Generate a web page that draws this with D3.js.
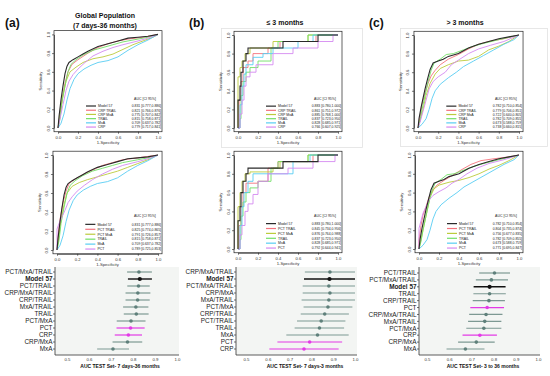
<!DOCTYPE html>
<html>
<head>
<meta charset="utf-8">
<script src="https://d3js.org/d3.v7.min.js"></script>
<style>
  body { margin: 0; background: #fff; }
  svg { font-family: "Liberation Sans", Arial, sans-serif; }
</style>
</head>
<body>
<div class="fig"></div>
<script>
// ---- ROC legends ----
var namesCRP = ["Model 57", "CRP TRAIL", "CRP MxA", "TRAIL", "MxA", "CRP"];
var namesPCT = ["Model 57", "PCT TRAIL", "PCT MxA", "TRAIL", "MxA", "PCT"];
var rocColors = ["#2a2a2a", "#f4737d", "#bccb3c", "#72df66", "#58cdf3", "#d58af0"];

var aucA1 = ["0.831 [0.777,0.886]", "0.821 [0.766,0.876]", "0.775 [0.707,0.842]", "0.815 [0.758,0.871]", "0.709 [0.637,0.782]", "0.779 [0.717,0.841]"];
var aucA2 = ["0.831 [0.777,0.886]", "0.825 [0.774,0.865]", "0.791 [0.726,0.857]", "0.815 [0.758,0.871]", "0.709 [0.637,0.782]", "0.789 [0.725,0.853]"];
var aucB1 = ["0.883 [0.780,1.000]", "0.861 [0.751,0.972]", "0.885 [0.768,1.000]", "0.837 [0.723,0.950]", "0.828 [0.685,0.971]", "0.766 [0.607,0.925]"];
var aucB2 = ["0.883 [0.780,1.000]", "0.845 [0.734,0.956]", "0.876 [0.764,0.988]", "0.837 [0.723,0.950]", "0.828 [0.685,0.971]", "0.792 [0.644,0.941]"];
var aucC1 = ["0.782 [0.710,0.854]", "0.779 [0.706,0.851]", "0.722 [0.640,0.805]", "0.782 [0.709,0.855]", "0.673 [0.588,0.759]", "0.738 [0.660,0.815]"];
var aucC2 = ["0.782 [0.710,0.854]", "0.804 [0.735,0.874]", "0.756 [0.677,0.835]", "0.782 [0.709,0.855]", "0.673 [0.588,0.759]", "0.771 [0.695,0.847]"];

// ---- ROC curves, [1-specificity, sensitivity] ----
var m57A = [[0,0],[0.01,0.12],[0.03,0.3],[0.05,0.45],[0.07,0.58],[0.09,0.66],[0.11,0.7],[0.15,0.73],[0.2,0.76],[0.25,0.79],[0.3,0.82],[0.4,0.87],[0.5,0.9],[0.6,0.93],[0.7,0.96],[0.8,0.97],[0.9,0.98],[1,1]];
var trailA = [[0,0],[0.02,0.1],[0.04,0.28],[0.07,0.45],[0.1,0.6],[0.13,0.68],[0.18,0.73],[0.25,0.78],[0.35,0.83],[0.45,0.86],[0.55,0.89],[0.65,0.92],[0.8,0.95],[0.9,0.97],[1,1]];
var mxaA = [[0,0],[0.03,0.05],[0.06,0.15],[0.09,0.3],[0.12,0.42],[0.16,0.52],[0.2,0.58],[0.26,0.63],[0.33,0.67],[0.4,0.7],[0.5,0.72],[0.6,0.76],[0.7,0.83],[0.8,0.89],[0.9,0.94],[1,1]];
var rocA1 = [m57A,
  [[0,0],[0.02,0.12],[0.04,0.3],[0.07,0.48],[0.1,0.6],[0.14,0.68],[0.2,0.73],[0.3,0.8],[0.4,0.86],[0.5,0.9],[0.6,0.93],[0.7,0.95],[0.85,0.97],[1,1]],
  [[0,0],[0.02,0.15],[0.05,0.35],[0.08,0.5],[0.12,0.6],[0.18,0.65],[0.25,0.7],[0.35,0.74],[0.45,0.76],[0.55,0.79],[0.65,0.84],[0.75,0.89],[0.85,0.93],[0.95,0.97],[1,1]],
  trailA, mxaA,
  [[0,0],[0.02,0.1],[0.05,0.25],[0.08,0.4],[0.11,0.5],[0.15,0.57],[0.2,0.63],[0.27,0.7],[0.35,0.77],[0.45,0.82],[0.55,0.86],[0.65,0.89],[0.8,0.93],[0.9,0.96],[1,1]]];
var rocA2 = [m57A,
  [[0,0],[0.01,0.15],[0.03,0.32],[0.06,0.5],[0.09,0.62],[0.12,0.7],[0.17,0.74],[0.25,0.79],[0.35,0.84],[0.45,0.89],[0.55,0.92],[0.65,0.95],[0.8,0.97],[1,1]],
  [[0,0],[0.02,0.15],[0.04,0.32],[0.07,0.48],[0.1,0.6],[0.15,0.67],[0.22,0.71],[0.3,0.74],[0.4,0.77],[0.5,0.8],[0.6,0.83],[0.7,0.87],[0.8,0.91],[0.9,0.95],[1,1]],
  trailA, mxaA,
  [[0,0],[0,0.22],[0.02,0.28],[0.05,0.35],[0.08,0.42],[0.11,0.5],[0.15,0.56],[0.2,0.62],[0.27,0.68],[0.35,0.74],[0.45,0.8],[0.55,0.85],[0.65,0.89],[0.8,0.93],[0.9,0.96],[1,1]]];

var m57B = [[0,0],[0,0.3],[0.02,0.45],[0.03,0.6],[0.05,0.72],[0.08,0.8],[0.1,0.86],[0.45,0.93],[0.8,1],[1,1]];
var trailB = [[0,0],[0.02,0.1],[0.03,0.35],[0.05,0.5],[0.08,0.6],[0.12,0.65],[0.2,0.72],[0.33,0.86],[0.4,0.93],[0.7,1],[1,1]];
var rocB1 = [m57B,
  [[0,0],[0.01,0.3],[0.03,0.5],[0.05,0.65],[0.1,0.72],[0.15,0.8],[0.3,0.86],[0.42,0.93],[0.78,1],[1,1]],
  [[0,0],[0,0.55],[0.02,0.65],[0.04,0.72],[0.07,0.8],[0.12,0.86],[0.35,0.93],[0.7,1],[1,1]],
  trailB,
  [[0,0],[0.02,0.25],[0.04,0.45],[0.06,0.58],[0.08,0.68],[0.15,0.76],[0.25,0.8],[0.35,0.86],[0.6,0.93],[0.75,1],[1,1]],
  [[0,0],[0.02,0.15],[0.04,0.3],[0.06,0.45],[0.08,0.55],[0.12,0.6],[0.18,0.68],[0.35,0.8],[0.55,0.86],[0.8,0.93],[0.95,1],[1,1]]];
var rocB2 = [m57B,
  [[0,0],[0.01,0.25],[0.03,0.45],[0.05,0.6],[0.08,0.7],[0.2,0.72],[0.3,0.86],[0.4,0.93],[0.75,1],[1,1]],
  [[0,0],[0,0.45],[0.02,0.6],[0.04,0.72],[0.07,0.8],[0.12,0.82],[0.35,0.86],[0.42,0.93],[0.7,1],[1,1]],
  trailB,
  [[0,0],[0.02,0.25],[0.04,0.45],[0.06,0.6],[0.1,0.72],[0.15,0.8],[0.55,0.93],[0.72,1],[1,1]],
  [[0,0],[0.02,0.15],[0.04,0.25],[0.07,0.4],[0.1,0.48],[0.15,0.58],[0.2,0.72],[0.3,0.8],[0.5,0.86],[0.75,0.93],[0.97,1],[1,1]]];

var m57C = [[0,0],[0.01,0.1],[0.03,0.22],[0.05,0.32],[0.07,0.42],[0.1,0.55],[0.12,0.63],[0.15,0.7],[0.2,0.72],[0.25,0.74],[0.3,0.77],[0.4,0.8],[0.5,0.86],[0.6,0.9],[0.7,0.93],[0.8,0.96],[0.9,0.98],[1,1]];
var trailC = [[0,0],[0.02,0.08],[0.04,0.2],[0.07,0.35],[0.1,0.5],[0.13,0.62],[0.16,0.7],[0.22,0.74],[0.28,0.79],[0.35,0.8],[0.45,0.84],[0.55,0.88],[0.65,0.91],[0.8,0.95],[1,1]];
var mxaC = [[0,0],[0.04,0.04],[0.08,0.1],[0.11,0.2],[0.14,0.32],[0.17,0.4],[0.22,0.47],[0.3,0.54],[0.38,0.6],[0.45,0.66],[0.55,0.72],[0.65,0.78],[0.75,0.84],[0.85,0.9],[0.95,0.95],[1,1]];
var rocC1 = [m57C,
  [[0,0],[0.02,0.12],[0.04,0.25],[0.07,0.38],[0.1,0.48],[0.13,0.56],[0.17,0.62],[0.22,0.68],[0.3,0.74],[0.4,0.79],[0.5,0.85],[0.6,0.9],[0.7,0.93],[0.85,0.96],[1,1]],
  [[0,0],[0.02,0.08],[0.05,0.2],[0.08,0.35],[0.12,0.48],[0.17,0.58],[0.22,0.64],[0.3,0.68],[0.4,0.72],[0.5,0.73],[0.6,0.77],[0.7,0.84],[0.8,0.88],[0.9,0.93],[1,1]],
  trailC, mxaC,
  [[0,0],[0.02,0.06],[0.05,0.18],[0.08,0.3],[0.11,0.42],[0.15,0.5],[0.2,0.55],[0.27,0.6],[0.33,0.68],[0.4,0.73],[0.5,0.8],[0.6,0.85],[0.72,0.89],[0.85,0.93],[1,1]]];
var rocC2 = [m57C,
  [[0,0],[0,0.1],[0.02,0.25],[0.04,0.36],[0.07,0.45],[0.1,0.55],[0.14,0.63],[0.18,0.68],[0.25,0.73],[0.33,0.78],[0.42,0.84],[0.52,0.9],[0.62,0.94],[0.75,0.96],[0.9,0.98],[1,1]],
  [[0,0],[0.02,0.1],[0.05,0.25],[0.08,0.4],[0.11,0.55],[0.15,0.64],[0.2,0.68],[0.3,0.71],[0.4,0.73],[0.5,0.76],[0.6,0.8],[0.7,0.85],[0.8,0.89],[0.9,0.94],[1,1]],
  trailC, mxaC,
  [[0,0],[0,0.22],[0.02,0.3],[0.04,0.38],[0.07,0.45],[0.1,0.52],[0.14,0.57],[0.2,0.61],[0.27,0.65],[0.33,0.7],[0.4,0.74],[0.48,0.8],[0.58,0.86],[0.7,0.91],[0.85,0.95],[1,1]]];

// ---- forest plots: AUC with 95% CI ----
var forestA_labels = ["PCT/MxA/TRAIL", "Model 57", "PCT/TRAIL", "CRP/MxA/TRAIL", "CRP/TRAIL", "MxA/TRAIL", "TRAIL", "PCT/MxA", "PCT", "CRP", "CRP/MxA", "MxA"];
var forestA_auc = [0.827, 0.831, 0.825, 0.822, 0.821, 0.813, 0.815, 0.791, 0.789, 0.779, 0.775, 0.709];
var forestA_lo  = [0.773, 0.777, 0.774, 0.766, 0.766, 0.755, 0.758, 0.726, 0.725, 0.717, 0.707, 0.637];
var forestA_hi  = [0.886, 0.886, 0.876, 0.879, 0.876, 0.870, 0.871, 0.857, 0.853, 0.841, 0.842, 0.782];

var forestB_labels = ["CRP/MxA/TRAIL", "Model 57", "PCT/MxA/TRAIL", "CRP/MxA", "MxA/TRAIL", "PCT/MxA", "CRP/TRAIL", "PCT/TRAIL", "TRAIL", "MxA", "PCT", "CRP"];
var forestB_auc = [0.885, 0.883, 0.880, 0.885, 0.880, 0.876, 0.861, 0.845, 0.837, 0.828, 0.792, 0.766];
var forestB_lo  = [0.770, 0.766, 0.760, 0.760, 0.755, 0.764, 0.751, 0.734, 0.723, 0.685, 0.644, 0.607];
var forestB_hi  = [1.000, 1.000, 1.000, 1.000, 1.000, 0.988, 0.972, 0.956, 0.950, 0.971, 0.941, 0.925];

var forestC_labels = ["PCT/TRAIL", "PCT/MxA/TRAIL", "Model 57", "TRAIL", "CRP/TRAIL", "PCT", "CRP/MxA/TRAIL", "MxA/TRAIL", "PCT/MxA", "CRP", "CRP/MxA", "MxA"];
var forestC_auc = [0.804, 0.790, 0.782, 0.782, 0.779, 0.771, 0.766, 0.760, 0.756, 0.738, 0.722, 0.673];
var forestC_lo  = [0.735, 0.720, 0.710, 0.709, 0.706, 0.695, 0.690, 0.685, 0.677, 0.660, 0.640, 0.588];
var forestC_hi  = [0.874, 0.865, 0.854, 0.855, 0.851, 0.847, 0.840, 0.835, 0.835, 0.815, 0.805, 0.759];

var auTicks = [0.5, 0.6, 0.7, 0.8, 0.9, 1.0];
var rocTicks = [0, 0.2, 0.4, 0.6, 0.8, 1.0];

var svg = d3.select(".fig").append("svg")
  .attr("width", 550).attr("height", 376);

// panel letters and titles
function txt(x, y, s, size, weight, anchor) {
  return svg.append("text").attr("x", x).attr("y", y).text(s)
    .style("font-size", size + "px").style("font-weight", weight || "normal")
    .style("text-anchor", anchor || "start").attr("fill", "#111");
}
txt(5, 27, "(a)", 12, "bold");
txt(189, 27, "(b)", 12, "bold");
txt(369, 27, "(c)", 12, "bold");
txt(105, 18, "Global Population", 7, "bold", "middle");
txt(105, 28, "(7 days-36 months)", 7, "bold", "middle");
txt(285, 24.5, "\u2264 3 months", 7, "bold", "middle");
txt(465, 24.5, "> 3 months", 7, "bold", "middle");

// light frames around the top (b) and (c) images
svg.append("rect").attr("x", 221.5).attr("y", 28.5).attr("width", 141).attr("height", 119)
  .attr("fill", "none").attr("stroke", "#e2e2e2").attr("stroke-width", 0.8);
svg.append("rect").attr("x", 400.5).attr("y", 28.5).attr("width", 147).attr("height", 118)
  .attr("fill", "none").attr("stroke", "#e2e2e2").attr("stroke-width", 0.8);

function rocPlot(c) {
  var x = d3.scaleLinear().domain([0, 1]).range([c.x0, c.x1]);
  var y = d3.scaleLinear().domain([0, 1]).range([c.y0, c.y1]);
  var g = svg.append("g");

  g.append("rect")
    .attr("x", x(-0.04)).attr("y", y(1.04))
    .attr("width", x(1.04) - x(-0.04)).attr("height", y(-0.04) - y(1.04))
    .attr("fill", "none").attr("stroke", "#222").attr("stroke-width", 0.7);

  var xa = g.append("g").attr("transform", "translate(0," + y(-0.04) + ")")
    .call(d3.axisBottom(x).tickValues(rocTicks).tickSize(2).tickSizeOuter(0).tickPadding(2.5).tickFormat(d3.format(".1f")));
  var ya = g.append("g").attr("transform", "translate(" + x(-0.04) + ",0)")
    .call(d3.axisLeft(y).tickValues(rocTicks).tickSize(2).tickSizeOuter(0).tickFormat(d3.format(".1f")));
  [xa, ya].forEach(function (a) {
    a.select(".domain").attr("stroke", "#222").attr("stroke-width", 0.7);
    a.selectAll(".tick line").attr("stroke", "#222").attr("stroke-width", 0.6);
    a.selectAll("text").style("font-size", "4.2px").attr("fill", "#333");
  });
  ya.selectAll("text").attr("transform", "rotate(-90)").attr("x", 0).attr("y", -4.5)
    .attr("dy", 0).style("text-anchor", "middle");

  g.append("text").attr("x", x(0.5)).attr("y", y(-0.04) + 12.5).text("1-Specificity")
    .style("font-size", "4.2px").style("text-anchor", "middle").attr("fill", "#333");
  g.append("text").attr("transform", "translate(" + (x(-0.04) - 12) + "," + y(0.5) + ") rotate(-90)")
    .text("Sensitivity").style("font-size", "4.2px").style("text-anchor", "middle").attr("fill", "#333");

  var line = d3.line().x(function (d) { return x(d[0]); }).y(function (d) { return y(d[1]); })
    .curve(c.step ? d3.curveStepAfter : d3.curveLinear);
  var order = [1, 2, 3, 4, 5, 0];
  order.forEach(function (i) {
    g.append("path").datum(c.curves[i]).attr("d", line)
      .attr("fill", "none").attr("stroke", rocColors[i])
      .attr("stroke-width", i === 0 ? 1.1 : 0.9);
  });

  // legend
  g.append("text").attr("x", x(0.87)).attr("y", y(c.ly0 + c.lgap * 1.7) + 1.3)
    .text("AUC [CI 95%]").style("font-size", "3.5px").style("text-anchor", "middle").attr("fill", "#222");
  c.names.forEach(function (n, i) {
    var yy = y(c.ly0 - i * c.lgap);
    g.append("line").attr("x1", x(0.28)).attr("x2", x(0.38)).attr("y1", yy).attr("y2", yy)
      .attr("stroke", rocColors[i]).attr("stroke-width", 1.2);
    g.append("text").attr("x", x(0.4)).attr("y", yy + 1.3).text(n)
      .style("font-size", "3.5px").attr("fill", "#222");
    g.append("text").attr("x", x(1.03)).attr("y", yy + 1.3).text(c.auc[i])
      .style("font-size", "3.4px").style("text-anchor", "end").attr("fill", "#222");
  });
}

rocPlot({ x0: 58, x1: 158, y0: 128, y1: 34.4, curves: rocA1, names: namesCRP, auc: aucA1, ly0: 0.235, lgap: 0.045 });
rocPlot({ x0: 57, x1: 158, y0: 250, y1: 155, curves: rocA2, names: namesPCT, auc: aucA2, ly0: 0.27, lgap: 0.052 });
rocPlot({ x0: 238, x1: 338, y0: 128, y1: 35, curves: rocB1, names: namesCRP, auc: aucB1, ly0: 0.235, lgap: 0.045, step: true });
rocPlot({ x0: 238, x1: 338, y0: 249, y1: 155, curves: rocB2, names: namesPCT, auc: aucB2, ly0: 0.27, lgap: 0.052, step: true });
rocPlot({ x0: 418, x1: 519, y0: 128, y1: 35, curves: rocC1, names: namesCRP, auc: aucC1, ly0: 0.235, lgap: 0.045 });
rocPlot({ x0: 419, x1: 519, y0: 249, y1: 155, curves: rocC2, names: namesPCT, auc: aucC2, ly0: 0.27, lgap: 0.052 });

function forest(c) {
  var x = d3.scaleLinear().domain([0.5, 1.0]).range([c.x05, c.x10]);
  var y = d3.scalePoint().domain(c.labels).range([c.yTop, c.yBot]);
  var g = svg.append("g");
  var fx0 = c.left, fx1 = c.right, fy0 = 267, fy1 = 355;

  g.append("rect").attr("x", fx0).attr("y", fy0).attr("width", fx1 - fx0).attr("height", fy1 - fy0)
    .attr("fill", "#f3f5f3");
  g.append("line").attr("x1", fx0).attr("x2", fx0).attr("y1", fy0).attr("y2", fy1)
    .attr("stroke", "#333").attr("stroke-width", 0.8);

  var xa = g.append("g").attr("transform", "translate(0," + fy1 + ")")
    .call(d3.axisBottom(x).tickValues(auTicks).tickSize(0).tickPadding(2.5).tickFormat(d3.format(".1f")));
  xa.select(".domain").attr("d", "M" + fx0 + ",0H" + fx1).attr("stroke", "#333").attr("stroke-width", 0.8);
  xa.selectAll("text").style("font-size", "4.3px").attr("fill", "#333");

  c.labels.forEach(function (lab, i) {
    var yy = y(lab);
    var col = lab === "Model 57" ? "#111" : (lab === "PCT" || lab === "CRP") ? "#e33be6" : "#7d9993";
    var dot = lab === "Model 57" ? "#111" : (lab === "PCT" || lab === "CRP") ? "#e33be6" : "#5f807b";
    g.append("line").attr("x1", fx0 - 2).attr("x2", fx0).attr("y1", yy).attr("y2", yy)
      .attr("stroke", "#333").attr("stroke-width", 0.7);
    g.append("text").attr("x", fx0 - 2.5).attr("y", yy + 2.3).text(lab)
      .style("font-size", "6.4px").style("text-anchor", "end")
      .style("font-weight", lab === "Model 57" ? "bold" : "normal").attr("fill", "#222");
    g.append("line").attr("x1", x(c.lo[i])).attr("x2", x(c.hi[i])).attr("y1", yy).attr("y2", yy)
      .attr("stroke", col).attr("stroke-width", lab === "Model 57" ? 1.4 : 1.2);
    g.append("circle").attr("cx", x(c.auc[i])).attr("cy", yy).attr("r", lab === "Model 57" ? 2.1 : 1.8)
      .attr("fill", dot);
  });

  g.append("text").attr("x", c.titleX).attr("y", 367.5).text(c.title)
    .style("font-size", "5px").style("font-weight", "bold").style("text-anchor", "middle").attr("fill", "#111");
}

forest({ labels: forestA_labels, auc: forestA_auc, lo: forestA_lo, hi: forestA_hi,
  x05: 67, x10: 177, left: 55, right: 179, yTop: 272, yBot: 349, title: "AUC TEST Set- 7 days-36 months", titleX: 120 });
forest({ labels: forestB_labels, auc: forestB_auc, lo: forestB_lo, hi: forestB_hi,
  x05: 246, x10: 355, left: 236, right: 357, yTop: 272, yBot: 349, title: "AUC TEST Set- 7 days-3 months", titleX: 305 });
forest({ labels: forestC_labels, auc: forestC_auc, lo: forestC_lo, hi: forestC_hi,
  x05: 427, x10: 538, left: 419, right: 540, yTop: 273, yBot: 349, title: "AUC TEST Set- 3 to 36 months", titleX: 483 });
</script>
</body>
</html>
